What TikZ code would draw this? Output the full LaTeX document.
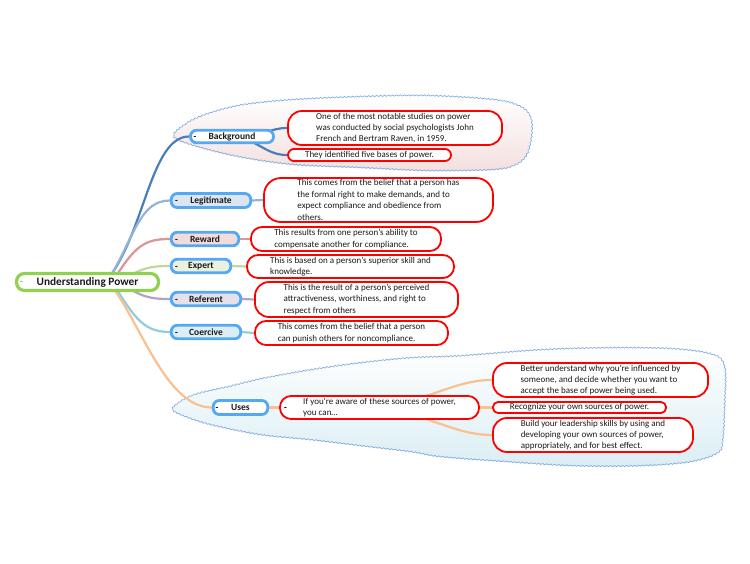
\documentclass[tikz,border=0pt]{standalone}
\usepackage{fontspec}
\setmainfont{Carlito}
\usetikzlibrary{decorations.pathmorphing}
\pgfdeclarelayer{bg}\pgfdeclarelayer{lines}\pgfsetlayers{bg,lines,main}
\definecolor{nodeblue}{HTML}{55A9F2}
\definecolor{rootgreen}{HTML}{92D050}
\definecolor{redb}{HTML}{FF0000}
\definecolor{cBg}{HTML}{4A7EBB}
\definecolor{cLeg}{HTML}{95B3D7}
\definecolor{cRew}{HTML}{D99694}
\definecolor{cExp}{HTML}{C3D69B}
\definecolor{cRef}{HTML}{B3A2C7}
\definecolor{cCoe}{HTML}{93CDDD}
\definecolor{cUse}{HTML}{FAC090}
\definecolor{fLeg}{HTML}{DCE6F2}
\definecolor{fRew}{HTML}{F2DCDB}
\definecolor{fExp}{HTML}{EBF1DE}
\definecolor{fRef}{HTML}{E5E0EC}
\definecolor{fCoe}{HTML}{DBEEF4}
\definecolor{cloudline}{HTML}{86AEE0}
\definecolor{txt}{HTML}{1A1A1A}
\tikzset{
  branch/.style={draw=nodeblue, line width=2.8pt, rounded corners=6pt, fill=white,
    font=\fontsize{9.5}{11}\selectfont\bfseries, text=txt, inner sep=0pt},
  note/.style={draw=redb, line width=1.8pt, fill=white, font=\fontsize{9}{11.4}\selectfont,
    align=left, inner sep=0pt, text=txt},
  minus/.style={font=\fontsize{9}{11}\selectfont\bfseries, inner sep=0pt, text=black, yshift=-1.5pt},
  conn/.style={line width=2.2pt, line cap=round},
  cloudedge/.style={draw=cloudline, line width=0.7pt, decorate,
    decoration={snake, segment length=4pt, amplitude=0.6pt}}
}
\begin{document}
\begin{tikzpicture}[x=1pt,y=-1pt]
% clouds and page
\begin{pgfonlayer}{bg}
\fill[white] (0,0) rectangle (750,563);
\path[top color=white, bottom color=fRew!90] plot[smooth cycle, tension=0.55] coordinates {
 (173,137) (187,123) (210,113) (243,105) (293,100) (360,97) (427,96) (493,100) (520,107)
 (530,118) (531,135) (526,155) (515,165) (493,170) (427,171) (360,168) (293,165) (243,158) (200,148)};
\path[cloudedge] plot[smooth cycle, tension=0.55] coordinates {
 (173,137) (187,123) (210,113) (243,105) (293,100) (360,97) (427,96) (493,100) (520,107)
 (530,118) (531,135) (526,155) (515,165) (493,170) (427,171) (360,168) (293,165) (243,158) (200,148)};
\path[top color=white, bottom color=fCoe] plot[smooth cycle, tension=0.55] coordinates {
 (172,408) (193,395) (227,387) (260,379) (310,370) (360,363) (410,358) (460,356) (540,350)
 (607,348) (673,349) (713,355) (724,368) (724,400) (722,440) (717,453) (690,462) (640,466)
 (573,466) (507,462) (440,457) (410,452) (360,446) (310,440) (260,435) (210,425) (180,415)};
\path[cloudedge] plot[smooth cycle, tension=0.55] coordinates {
 (172,408) (193,395) (227,387) (260,379) (310,370) (360,363) (410,358) (460,356) (540,350)
 (607,348) (673,349) (713,355) (724,368) (724,400) (722,440) (717,453) (690,462) (640,466)
 (573,466) (507,462) (440,457) (410,452) (360,446) (310,440) (260,435) (210,425) (180,415)};
\end{pgfonlayer}
\useasboundingbox (0,0) rectangle (750,563);
% root
\node[draw=rootgreen, line width=3.2pt, rounded corners=8pt, fill=white, inner sep=0pt,
  minimum width=142pt, minimum height=17pt, font=\fontsize{11.3}{13}\selectfont\bfseries, text=txt]
  (root) at (87.5,282) {Understanding Power};
\node[font=\fontsize{9}{11}\selectfont, text=gray, inner sep=0pt, yshift=-1.5pt] (rootm) at (21.5,282) {-};
% branches
\node[branch, minimum width=83pt, minimum height=12.5pt] (bg) at (232,136.5) {Background};
\node[branch, fill=fLeg, minimum width=79.5pt, minimum height=14pt] (leg) at (211,200.5) {Legitimate};
\node[branch, fill=fRew, minimum width=67.5pt, minimum height=13.5pt] (rew) at (205,239) {Reward};
\node[branch, fill=fExp, minimum width=59.5pt, minimum height=13.5pt] (exp) at (201,266) {Expert};
\node[branch, fill=fRef, minimum width=69.5pt, minimum height=13.5pt] (ref) at (206,299) {Referent};
\node[branch, fill=fCoe, minimum width=69.5pt, minimum height=13.5pt] (coe) at (206,332) {Coercive};
\node[branch, minimum width=54.5pt, minimum height=14pt] (uses) at (240.5,407.5) {Uses};
\node[minus] (bgm) at (195,136.5) {-};
\node[minus] (legm) at (176.5,200.5) {-};
\node[minus] (rewm) at (176.5,239) {-};
\node[minus] (expm) at (176.5,266) {-};
\node[minus] (refm) at (176.5,299) {-};
\node[minus] (coem) at (176.5,332) {-};
\node[minus] (usesm) at (217,407.5) {-};
% notes
\node[note, rounded corners=14pt, minimum width=214pt, minimum height=34pt] (bgt1) at (395,128)
  {One of the most notable studies on power\\was conducted by social psychologists John\\French and Bertram Raven, in 1959.};
\node[note, rounded corners=6pt, minimum width=163pt, minimum height=12pt] (bgt2) at (369.5,155)
  {They identified five bases of power.};
\node[note, rounded corners=17pt, minimum width=229pt, minimum height=44pt] (legt) at (378.5,200)
  {This comes from the belief that a person has\\the formal right to make demands, and to\\expect compliance and obedience from\\others.};
\node[note, rounded corners=11pt, minimum width=190pt, minimum height=24pt] (rewt) at (346,239)
  {This results from one person’s ability to\\compensate another for compliance.};
\node[note, rounded corners=11pt, minimum width=207pt, minimum height=23pt] (expt) at (350.5,266.5)
  {This is based on a person’s superior skill and\\knowledge.};
\node[note, rounded corners=14pt, minimum width=203pt, minimum height=35pt] (reft) at (356.5,299.5)
  {This is the result of a person’s perceived\\attractiveness, worthiness, and right to\\respect from others};
\node[note, rounded corners=11pt, minimum width=193pt, minimum height=24pt] (coet) at (351.5,333)
  {This comes from the belief that a person\\can punish others for noncompliance.};
\node[note, rounded corners=11pt, minimum width=199pt, minimum height=23pt] (ifn) at (379.5,407.5)
  {If you’re aware of these sources of power,\\you can…};
\node[minus] (ifm) at (285.5,407.5) {-};
\node[note, rounded corners=14pt, minimum width=215pt, minimum height=34pt] (bett) at (600.5,380)
  {Better understand why you’re influenced by\\someone, and decide whether you want to\\accept the base of power being used.};
\node[note, rounded corners=5pt, minimum width=173pt, minimum height=11pt] (rect) at (579.5,407.5)
  {Recognize your own sources of power.};
\node[note, rounded corners=14pt, minimum width=200pt, minimum height=34pt] (bldt) at (593,435)
  {Build your leadership skills by using and\\developing your own sources of power,\\appropriately, and for best effect.};
% connectors
\begin{pgfonlayer}{lines}
\draw[conn, cBg] ([xshift=18pt]root.center) .. controls (145,235) and (150,136.5) .. (bg.west);
\draw[conn, cLeg] ([xshift=20pt]root.center) .. controls (135,235) and (140,200.5) .. (leg.west);
\draw[conn, cRew] ([xshift=25pt]root.center) .. controls (135,245) and (145,239) .. (rew.west);
\draw[conn, cExp] ([xshift=33pt]root.center) .. controls (140,268) and (150,266) .. (exp.west);
\draw[conn, cRef] ([xshift=33pt]root.center) .. controls (140,297) and (150,299) .. (ref.west);
\draw[conn, cCoe] ([xshift=25pt]root.center) .. controls (135,320) and (145,332) .. (coe.west);
\draw[conn, cUse] ([xshift=21pt]root.center) .. controls (140,320) and (165,407.5) .. (uses.west);
\draw[conn, cBg] (bg.center) .. controls (265,136) and (270,128) .. (bgt1.west);
\draw[conn, cBg] (bg.center) .. controls (260,140) and (265,155) .. (bgt2.west);
\draw[conn, cLeg] (leg.east) -- (legt.west);
\draw[conn, cRew] (rew.east) -- (rewt.west);
\draw[conn, cExp] (exp.east) -- (expt.west);
\draw[conn, cRef] (ref.east) -- (reft.west);
\draw[conn, cCoe] (coe.east) -- (coet.west);
\draw[conn, cUse] (uses.east) -- (ifn.west);
\draw[conn, cUse] (ifn.center) .. controls (430,400) and (455,380) .. (bett.west);
\draw[conn, cUse] (ifn.east) -- (rect.west);
\draw[conn, cUse] (ifn.center) .. controls (430,415) and (455,435) .. (bldt.west);
\end{pgfonlayer}
\end{tikzpicture}
\end{document}
